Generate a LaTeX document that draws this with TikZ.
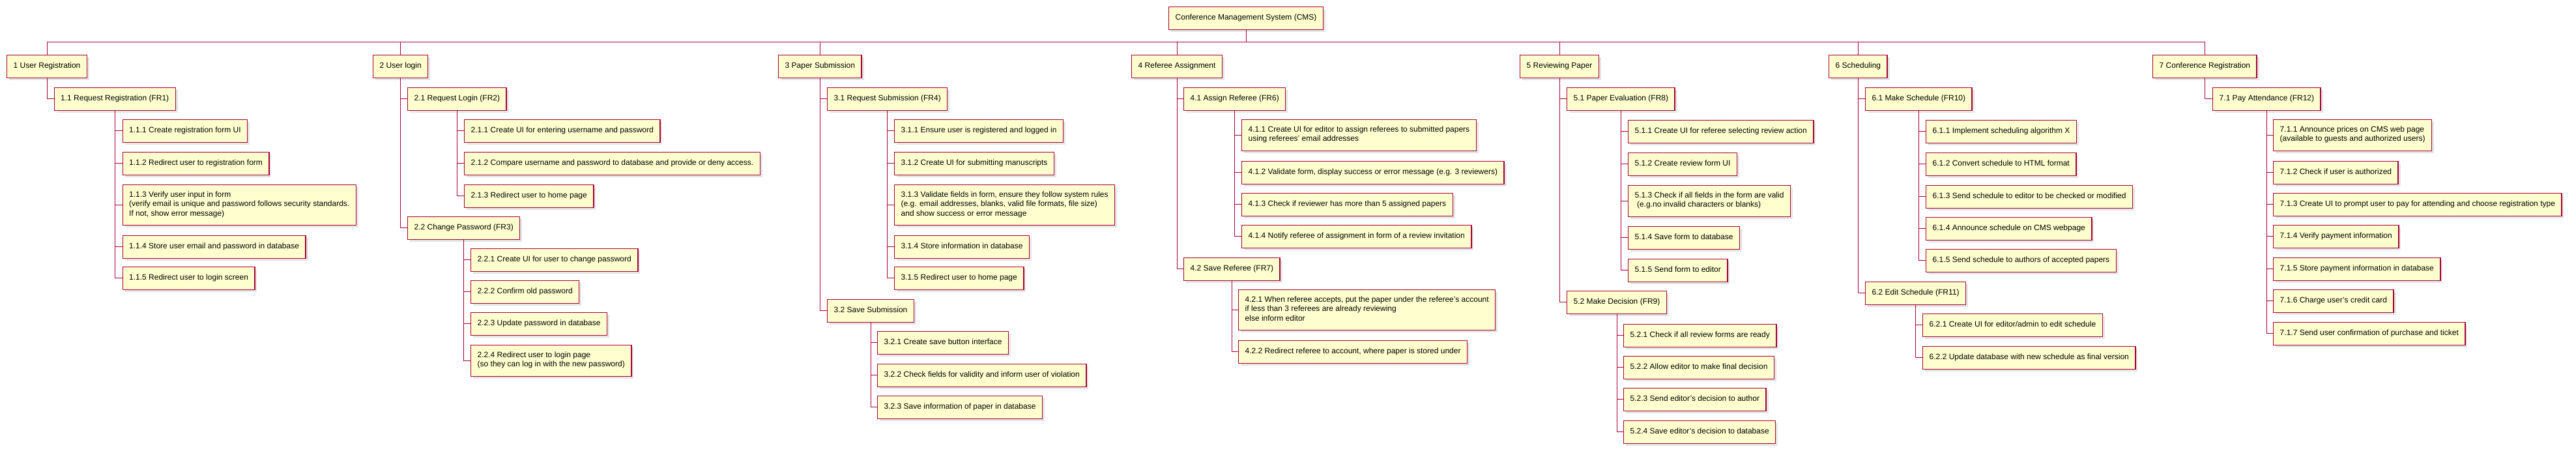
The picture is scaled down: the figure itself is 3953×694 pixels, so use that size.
\documentclass[tikz,border=0pt]{standalone}
\usepackage{fontspec}
\setmainfont{Liberation Sans}
\usetikzlibrary{shadows}
\definecolor{wbsred}{HTML}{A80036}
\definecolor{wbsfill}{HTML}{FEFECE}
\begin{document}
\begin{tikzpicture}[
		x=1pt, y=-1pt,
		font=\fontsize{12}{14.5}\selectfont,
		task/.style={rectangle, draw=wbsred, fill=wbsfill, line width=1.4pt,
			anchor=north west, align=left, inner xsep=10pt, inner ysep=10pt,
			execute at begin node=\strut, execute at end node=\strut,
			drop shadow={shadow xshift=3.5pt, shadow yshift=-3.5pt, fill=gray!80, opacity=0.25}},
		link/.style={draw=wbsred, line width=1pt}
		]
		\useasboundingbox (0,0) rectangle (3953,694);
		
		% ---- Root ----
		\node[task] (root) at (1793, 10) {Conference Management System (CMS)};
		\coordinate (bus) at (0, 64);
		
		% ---- Column 1: user registration ----
		\node[task] (n1)   at (10,   84) {1 User Registration};
		\node[task] (n11)  at (82.5, 134) {1.1 Request Registration (FR1)};
		\node[task] (n111) at (187.5,183) {1.1.1 Create registration form UI};
		\node[task] (n112) at (187.5,233) {1.1.2 Redirect user to registration form};
		\node[task] (n113) at (187.5,283) {1.1.3 Verify user input in form\\(verify email is unique and password follows security standards.\\If not, show error message)};
		\node[task] (n114) at (187.5,361) {1.1.4 Store user email and password in database};
		\node[task] (n115) at (187.5,409) {1.1.5 Redirect user to login screen};
		
		% ---- Column 2: user login ----
		\node[task] (n2)   at (572, 84) {2 User login};
		\node[task] (n21)  at (625, 134) {2.1 Request Login (FR2)};
		\node[task] (n211) at (712, 183) {2.1.1 Create UI for entering username and password};
		\node[task] (n212) at (712, 233) {2.1.2 Compare username and password to database and provide or deny access.};
		\node[task] (n213) at (712, 283) {2.1.3 Redirect user to home page};
		\node[task] (n22)  at (625, 332) {2.2 Change Password (FR3)};
		\node[task] (n221) at (722, 381) {2.2.1 Create UI for user to change password};
		\node[task] (n222) at (722, 430) {2.2.2 Confirm old password};
		\node[task] (n223) at (722, 479) {2.2.3 Update password in database};
		\node[task] (n224) at (722, 529) {2.2.4 Redirect user to login page\\(so they can log in with the new password)};
		
		% ---- Column 3: paper submission ----
		\node[task] (n3)   at (1194, 84) {3 Paper Submission};
		\node[task] (n31)  at (1269, 134) {3.1 Request Submission (FR4)};
		\node[task] (n311) at (1372, 183) {3.1.1 Ensure user is registered and logged in};
		\node[task] (n312) at (1372, 233) {3.1.2 Create UI for submitting manuscripts};
		\node[task] (n313) at (1372, 283) {3.1.3 Validate fields in form, ensure they follow system rules\\(e.g. email addresses, blanks, valid file formats, file size)\\and show success or error message};
		\node[task] (n314) at (1372, 361) {3.1.4 Store information in database};
		\node[task] (n315) at (1372, 409) {3.1.5 Redirect user to home page};
		\node[task] (n32)  at (1269, 459) {3.2 Save Submission};
		\node[task] (n321) at (1346, 508) {3.2.1 Create save button interface};
		\node[task] (n322) at (1346, 558) {3.2.2 Check fields for validity and inform user of violation};
		\node[task] (n323) at (1346, 607) {3.2.3 Save information of paper in database};
		
		% ---- Column 4: referee assignment ----
		\node[task] (n4)   at (1736, 84) {4 Referee Assignment};
		\node[task] (n41)  at (1816, 134) {4.1 Assign Referee (FR6)};
		\node[task] (n411) at (1905, 183) {4.1.1 Create UI for editor to assign referees to submitted papers\\using referees' email addresses};
		\node[task] (n412) at (1905, 247) {4.1.2 Validate form, display success or error message (e.g. 3 reviewers)};
		\node[task] (n413) at (1905, 296) {4.1.3 Check if reviewer has more than 5 assigned papers};
		\node[task] (n414) at (1905, 345) {4.1.4 Notify referee of assignment in form of a review invitation};
		\node[task] (n42)  at (1816, 395) {4.2 Save Referee (FR7)};
		\node[task] (n421) at (1900, 444) {4.2.1 When referee accepts, put the paper under the referee's account\\if less than 3 referees are already reviewing\\else inform editor};
		\node[task] (n422) at (1900, 522) {4.2.2 Redirect referee to account, where paper is stored under};
		
		% ---- Column 5: reviewing paper ----
		\node[task] (n5)   at (2332, 84) {5 Reviewing Paper};
		\node[task] (n51)  at (2404, 134) {5.1 Paper Evaluation (FR8)};
		\node[task] (n511) at (2498, 184) {5.1.1 Create UI for referee selecting review action};
		\node[task] (n512) at (2498, 234) {5.1.2 Create review form UI};
		\node[task] (n513) at (2498, 284) {5.1.3 Check if all fields in the form are valid\\\ (e.g.no invalid characters or blanks)};
		\node[task] (n514) at (2498, 347) {5.1.4 Save form to database};
		\node[task] (n515) at (2498, 397) {5.1.5 Send form to editor};
		\node[task] (n52)  at (2404, 446) {5.2 Make Decision (FR9)};
		\node[task] (n521) at (2491, 497) {5.2.1 Check if all review forms are ready};
		\node[task] (n522) at (2491, 546) {5.2.2 Allow editor to make final decision};
		\node[task] (n523) at (2491, 595) {5.2.3 Send editor's decision to author};
		\node[task] (n524) at (2491, 645) {5.2.4 Save editor's decision to database};
		
		% ---- Column 6: scheduling ----
		\node[task] (n6)   at (2806, 84) {6 Scheduling};
		\node[task] (n61)  at (2862, 134) {6.1 Make Schedule (FR10)};
		\node[task] (n611) at (2955, 184) {6.1.1 Implement scheduling algorithm X};
		\node[task] (n612) at (2955, 234) {6.1.2 Convert schedule to HTML format};
		\node[task] (n613) at (2955, 284) {6.1.3 Send schedule to editor to be checked or modified};
		\node[task] (n614) at (2955, 333) {6.1.4 Announce schedule on CMS webpage};
		\node[task] (n615) at (2955, 382) {6.1.5 Send schedule to authors of accepted papers};
		\node[task] (n62)  at (2862, 432) {6.2 Edit Schedule (FR11)};
		\node[task] (n621) at (2950, 481) {6.2.1 Create UI for editor/admin to edit schedule};
		\node[task] (n622) at (2950, 531) {6.2.2 Update database with new schedule as final version};
		
		% ---- Column 7: conference registration ----
		\node[task] (n7)   at (3303, 84) {7 Conference Registration};
		\node[task] (n71)  at (3395, 134) {7.1 Pay Attendance (FR12)};
		\node[task] (n711) at (3488, 183) {7.1.1 Announce prices on CMS web page\\(available to guests and authorized users)};
		\node[task] (n712) at (3488, 247) {7.1.2 Check if user is authorized};
		\node[task] (n713) at (3488, 296) {7.1.3 Create UI to prompt user to pay for attending and choose registration type};
		\node[task] (n714) at (3488, 345) {7.1.4 Verify payment information};
		\node[task] (n715) at (3488, 395) {7.1.5 Store payment information in database};
		\node[task] (n716) at (3488, 444) {7.1.6 Charge user's credit card};
		\node[task] (n717) at (3488, 494) {7.1.7 Send user confirmation of purchase and ticket};
		
		% ---- Connectors: each vertical drawn once, short stubs to the children ----
		% root -> top level (shared bus)
		\draw[link] (root.south) -- (root.south |- bus);
		\draw[link] (n1.north) -- (n1.north |- bus) -- (n7.north |- bus) -- (n7.north);
		\draw[link] (n2.north) -- (n2.north |- bus);
		\draw[link] (n3.north) -- (n3.north |- bus);
		\draw[link] (n4.north) -- (n4.north |- bus);
		\draw[link] (n5.north) -- (n5.north |- bus);
		\draw[link] (n6.north) -- (n6.north |- bus);
		
		% column 1
		\draw[link] (n1.south) |- (n11.west);
		\draw[link] (n11.south) |- (n115.west);
		\draw[link] (n11.south |- n111.west) -- (n111.west);
		\draw[link] (n11.south |- n112.west) -- (n112.west);
		\draw[link] (n11.south |- n113.west) -- (n113.west);
		\draw[link] (n11.south |- n114.west) -- (n114.west);
		
		% column 2
		\draw[link] (n2.south) |- (n22.west);
		\draw[link] (n2.south |- n21.west) -- (n21.west);
		\draw[link] (n21.south) |- (n213.west);
		\draw[link] (n21.south |- n211.west) -- (n211.west);
		\draw[link] (n21.south |- n212.west) -- (n212.west);
		\draw[link] (n22.south) |- (n224.west);
		\draw[link] (n22.south |- n221.west) -- (n221.west);
		\draw[link] (n22.south |- n222.west) -- (n222.west);
		\draw[link] (n22.south |- n223.west) -- (n223.west);
		
		% column 3
		\draw[link] (n3.south) |- (n32.west);
		\draw[link] (n3.south |- n31.west) -- (n31.west);
		\draw[link] (n31.south) |- (n315.west);
		\draw[link] (n31.south |- n311.west) -- (n311.west);
		\draw[link] (n31.south |- n312.west) -- (n312.west);
		\draw[link] (n31.south |- n313.west) -- (n313.west);
		\draw[link] (n31.south |- n314.west) -- (n314.west);
		\draw[link] (n32.south) |- (n323.west);
		\draw[link] (n32.south |- n321.west) -- (n321.west);
		\draw[link] (n32.south |- n322.west) -- (n322.west);
		
		% column 4
		\draw[link] (n4.south) |- (n42.west);
		\draw[link] (n4.south |- n41.west) -- (n41.west);
		\draw[link] (n41.south) |- (n414.west);
		\draw[link] (n41.south |- n411.west) -- (n411.west);
		\draw[link] (n41.south |- n412.west) -- (n412.west);
		\draw[link] (n41.south |- n413.west) -- (n413.west);
		\draw[link] (n42.south) |- (n422.west);
		\draw[link] (n42.south |- n421.west) -- (n421.west);
		
		% column 5
		\draw[link] (n5.south) |- (n52.west);
		\draw[link] (n5.south |- n51.west) -- (n51.west);
		\draw[link] (n51.south) |- (n515.west);
		\draw[link] (n51.south |- n511.west) -- (n511.west);
		\draw[link] (n51.south |- n512.west) -- (n512.west);
		\draw[link] (n51.south |- n513.west) -- (n513.west);
		\draw[link] (n51.south |- n514.west) -- (n514.west);
		\draw[link] (n52.south) |- (n524.west);
		\draw[link] (n52.south |- n521.west) -- (n521.west);
		\draw[link] (n52.south |- n522.west) -- (n522.west);
		\draw[link] (n52.south |- n523.west) -- (n523.west);
		
		% column 6
		\draw[link] (n6.south) |- (n62.west);
		\draw[link] (n6.south |- n61.west) -- (n61.west);
		\draw[link] (n61.south) |- (n615.west);
		\draw[link] (n61.south |- n611.west) -- (n611.west);
		\draw[link] (n61.south |- n612.west) -- (n612.west);
		\draw[link] (n61.south |- n613.west) -- (n613.west);
		\draw[link] (n61.south |- n614.west) -- (n614.west);
		\draw[link] (n62.south) |- (n622.west);
		\draw[link] (n62.south |- n621.west) -- (n621.west);
		
		% column 7
		\draw[link] (n7.south) |- (n71.west);
		\draw[link] (n71.south) |- (n717.west);
		\draw[link] (n71.south |- n711.west) -- (n711.west);
		\draw[link] (n71.south |- n712.west) -- (n712.west);
		\draw[link] (n71.south |- n713.west) -- (n713.west);
		\draw[link] (n71.south |- n714.west) -- (n714.west);
		\draw[link] (n71.south |- n715.west) -- (n715.west);
		\draw[link] (n71.south |- n716.west) -- (n716.west);
	\end{tikzpicture}
\end{document}
